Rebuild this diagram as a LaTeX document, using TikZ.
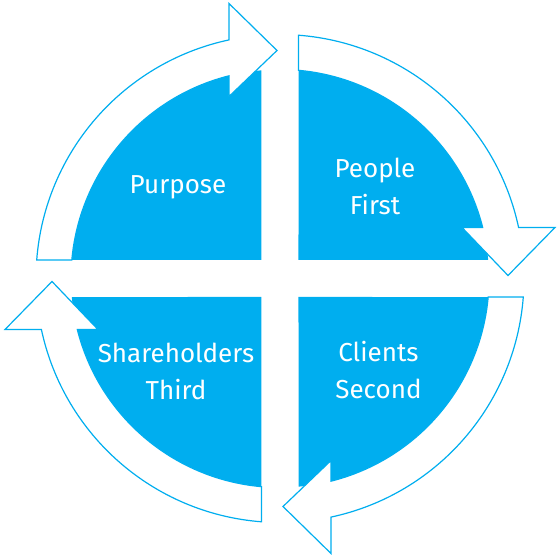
\documentclass[tikz,border=0pt]{standalone}
\usepackage{fontspec}
\setmainfont{Fira Sans}
\definecolor{cycleblue}{RGB}{0,174,239}
\tikzset{
  sector/.style={fill=cycleblue},
  bandarrow/.style={draw=cycleblue,fill=white,line width=1.2pt,line join=miter},
  quadtext/.style={text=white,align=center,font=\fontsize{26}{37}\selectfont}
}
\begin{document}
\begin{tikzpicture}[x=1pt,y=1pt]
  \useasboundingbox (-280,-280.5) rectangle (280,278.5);
  % blue quarters
  \foreach \r in {0,-90,-180,-270}{
    \fill[sector,rotate=\r] (-18.5,18.5) -- (95.08:209)
      arc[start angle=95.08,end angle=174.92,radius=209] -- cycle;
  }
  % curved arrows, clockwise
  \foreach \r in {0,-90,-180,-270}{
    \draw[bandarrow,rotate=\r] (175.65:244)
      arc[start angle=175.65,end angle=102.06,radius=244]
      -- (-51,275) -- (-3,228) -- (-51,182) -- (104.12:209)
      arc[start angle=104.12,end angle=174.92,radius=209] -- cycle;
  }
  \node[quadtext] (purpose) at (-102,91.5) {Purpose};
  \node[quadtext] (people) at (95,92.5) {People\\First};
  \node[quadtext] (clients) at (98.5,-91.5) {Clients\\Second};
  \node[quadtext] (holders) at (-104,-93) {Shareholders\\Third};
\end{tikzpicture}
\end{document}
